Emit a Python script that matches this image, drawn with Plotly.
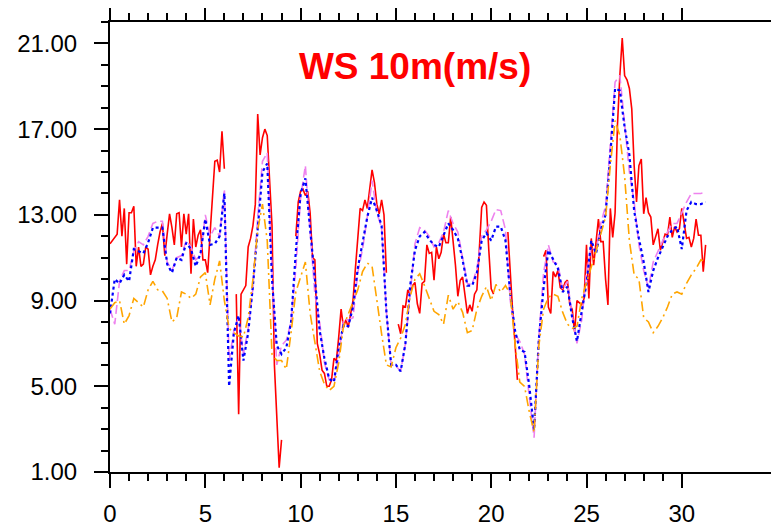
import plotly.graph_objects as go

# 3-hourly observed series (values per day, 8 per day), None = missing
red_ws = [
    11.65, 11.8, 12.0, 12.1, 13.7, 12.0, 13.3, 10.7,
    13.1, 13.1, 13.4, 10.6, 11.5, 10.6, 10.7, 11.5,
    11.4, 10.2, 10.6, 10.9, 11.6, 12.2, 12.6, 11.1,
    12.1, 13.05, 12.4, 11.6, 13.05, 13.1, 11.5, 13.05,
    12.1, 13.05, 10.25, 12.8, 11.5, 12.05, 12.3, 10.9,
    10.9, 10.3, 12.1, 13.8, 15.5, 15.55, 15.0, 16.9,
    15.15, None, None, None, None, 9.3, 3.7, 9.3,
    9.5, 9.7, 11.5, 11.9, 12.5, 13.5, 17.7, 15.8,
    16.6, 17.0, 16.7, 14.8, 12.5, 6.0, 3.4, 1.2,
    2.5, None, None, None, None, None, 12.0, 13.6,
    14.1, 14.2, 13.9, 14.1, 13.1, 11.0, 10.9, 7.0,
    6.5, 5.75, 5.6, 5.0, 5.0, 5.3, 6.3, 6.2,
    7.3, 8.6, 7.75, 8.1, 7.75, 8.4, 9.0, 10.5,
    11.8, 13.3, 13.2, 13.7, 13.3, 14.2, 15.1, 14.5,
    13.5, 13.05, 13.7, 13.0, 10.3, None, None, None,
    None, 7.9, 7.45, 8.75, 8.7, 9.5, 9.3, 9.7,
    9.85, 8.85, 8.4, 9.8, 9.9, 11.6, 11.2, 11.25,
    9.95, 11.5, 10.95, 11.25, 12.1, 11.7, 11.7, 12.9,
    11.8, 10.65, 9.2, 9.95, 10.1, 9.2, 8.4, 8.8,
    8.5, 9.3, 9.5, 11.35, 13.35, 13.6, 13.45, 11.35,
    9.55, 9.3, None, None, None, None, None, 12.2,
    10.0, 8.5, 7.0, 5.3, None, None, None, None,
    None, None, None, None, None, None, 11.05, 11.35,
    8.7, 8.4, 10.35, 10.1, 10.4, 9.6, 9.5, 9.85,
    9.95, 8.8, 8.6, 7.55, 9.0, 8.9, 8.8, 9.1,
    11.6, 9.1, 11.9, 10.65, 11.6, 12.8, 11.75, 11.75,
    10.0, 8.8, 13.3, 11.95, 13.1, 17.2, 19.5, 21.25,
    19.5, 19.3, 18.9, 17.95, 15.3, 13.6, 15.3, 15.6,
    13.05, 13.8, 13.1, 12.9, 11.6, 11.95, 12.35, 11.35,
    11.75, 12.1, 12.05, 12.9, 11.95, 12.45, 12.2, 12.35,
    13.3, 12.5, 11.9, 11.95, 11.5, 11.9, 12.8, 12.05,
    12.05, 10.35, 11.6,
]

# 6-hourly model series (4 per day)
violet_ws = [
    8.6, 7.9, 9.9, 10.4,
    10.4, 11.3, 11.75, 11.6,
    12.0, 12.6, 12.7, 12.7,
    10.8, 10.4, 11.0, 11.1,
    11.8, 11.5, 10.9, 11.1,
    13.0, 12.0, 12.4, 12.0,
    14.2, 6.2, 7.6, 8.2,
    6.5, 7.7, 9.6, 12.9,
    15.5, 15.9, 10.5, 6.0,
    6.9, 7.15, 8.0, 10.5,
    13.8, 15.3, 12.2, 9.3,
    8.0, 6.1, 5.3, 5.2,
    6.4, 8.1, 8.1, 8.2,
    10.3, 11.4, 12.9, 14.6,
    13.1, 12.4, 8.5, 6.0,
    5.95, 5.7, 7.0, 9.5,
    11.65, 12.4, 12.3, 12.0,
    11.5, 11.7, 12.2, 13.2,
    12.6, 12.2, 10.9, 9.8,
    9.75, 10.5, 12.0, 12.3,
    12.7, 13.25, 13.2, 12.3,
    9.0, 7.45, 7.1, 6.5,
    4.5, 2.6, 7.3, 10.3,
    11.6, 10.8, 10.7, 9.5,
    9.9, 8.3, 7.0, 8.1,
    10.3, 11.5, 11.3, 12.6,
    13.4, 16.5, 19.2, 19.5,
    17.3, 15.0, 13.6, 11.6,
    10.4, 9.6, 10.8, 11.3,
    11.8, 12.2, 12.6, 12.6,
    13.1, 13.6, 14.0, 14.0,
    14.0, 14.05,
]

blue_ws = [
    8.4, 10.0, 9.8, 10.2,
    9.9, 11.4, 11.3, 11.2,
    11.7, 12.4, 12.4, 12.4,
    10.7, 10.3, 11.0, 10.9,
    11.7, 11.4, 10.6, 11.2,
    12.8, 11.6, 11.65, 12.0,
    14.0, 5.0, 7.5, 8.3,
    6.2, 7.5, 9.7, 12.5,
    15.0, 15.4, 10.0, 6.9,
    6.5, 6.8, 8.0, 11.3,
    14.0, 14.7, 12.2, 10.0,
    7.6, 6.3, 5.35, 5.2,
    6.8, 7.85, 7.8, 8.7,
    10.5, 11.7, 12.9, 13.8,
    13.2, 12.5, 8.5, 6.0,
    6.0, 5.7, 7.0, 9.7,
    11.35, 12.0, 12.2, 11.85,
    11.6, 11.5, 12.1, 12.6,
    12.3, 11.9, 10.9, 9.7,
    9.7, 10.3, 11.8, 12.15,
    11.8, 12.45, 12.45, 11.8,
    9.3, 7.6, 6.7, 6.6,
    5.0, 2.95, 7.2, 9.6,
    11.35, 10.9, 10.5, 9.4,
    9.65, 8.2, 7.1, 8.5,
    9.8, 11.8, 11.2, 12.3,
    13.0, 15.8, 18.9, 18.8,
    17.1, 15.8, 13.2, 11.9,
    10.8, 9.4, 10.4, 11.0,
    11.5, 12.0, 12.3, 12.45,
    11.4, 13.2, 13.6, 13.5,
    13.5, 13.6,
]

orange_ws = [
    8.6, 8.9, 9.0, 7.9,
    8.3, 9.1, 8.9, 8.7,
    9.5, 9.9, 9.5, 9.45,
    9.1, 8.0, 8.2, 9.4,
    9.3, 9.1, 9.3, 10.1,
    10.3, 8.8, 10.0, 10.85,
    9.0, 7.7, 7.5, 7.35,
    7.3, 8.2, 10.0, 12.3,
    13.5, 11.8, 6.5, 6.2,
    6.2, 5.8, 7.5, 9.4,
    10.1, 10.8, 8.4, 7.15,
    5.7, 5.1, 4.8, 5.0,
    6.1, 7.8, 8.4, 8.9,
    9.5, 10.35, 10.75, 10.6,
    8.9, 7.45, 6.0, 5.9,
    6.8, 7.25, 7.9, 9.2,
    10.0, 10.25, 9.7, 9.1,
    8.5, 8.35, 7.9, 9.25,
    8.6, 8.95, 8.45, 7.5,
    7.6, 8.6, 9.2, 9.65,
    9.0, 9.75, 9.4, 9.7,
    9.3, 7.0, 5.2, 5.0,
    3.8, 2.85, 6.9, 8.6,
    9.15, 9.3, 9.2, 8.45,
    7.9, 7.7, 7.8, 9.1,
    9.8, 10.6, 11.3, 12.1,
    12.9, 15.3, 17.4, 16.7,
    14.8, 11.8, 10.2, 10.0,
    8.2, 8.0, 7.5, 7.8,
    8.2, 8.7, 9.3, 9.4,
    9.3, 9.8, 10.2, 10.5,
    10.9, 10.8,
]

t_3h = [i * 0.125 for i in range(len(red_ws))]
t_6h = [i * 0.25 for i in range(len(blue_ws))]

x_tickvals = [0, 5, 10, 15, 20, 25, 30]
x_minor = list(range(0, 31))
y_tickvals = [1, 5, 9, 13, 17, 21]
y_ticktext = ["1.00", "5.00", "9.00", "13.00", "17.00", "21.00"]

FONT = "Helvetica, Liberation Sans, Arial, sans-serif"

fig = go.Figure()
fig.add_trace(go.Scatter(x=t_3h, y=red_ws, mode="lines", name="OBS",
                         line=dict(color="#FF0000", width=1.6), connectgaps=False))
fig.add_trace(go.Scatter(x=t_6h, y=violet_ws, mode="lines", name="M1",
                         line=dict(color="#EE82EE", width=1.6, dash="9px,4px")))
fig.add_trace(go.Scatter(x=t_6h, y=blue_ws, mode="lines", name="M2",
                         line=dict(color="#0000FF", width=2.2, dash="3px,3px")))
fig.add_trace(go.Scatter(x=t_6h, y=orange_ws, mode="lines", name="M3",
                         line=dict(color="#FFA500", width=1.6, dash="10px,4px,2px,4px")))

# the page body adds an 8px offset, so the figure is sized to fill the rest
fig.update_layout(
    width=771, height=518,
    margin=dict(l=102, r=0, t=14, b=54, autoexpand=False),
    paper_bgcolor="white", plot_bgcolor="white",
    showlegend=False,
    title=dict(text="<b>WS 10m(m/s)</b>", x=0.528, xanchor="center",
               y=0.888, yanchor="middle",
               font=dict(family=FONT, size=37, color="#FF0000")),
    font=dict(family=FONT, color="black"),
)
fig.update_xaxes(
    range=[0, 35.1], tickmode="array", tickvals=x_tickvals,
    ticks="outside", ticklen=14, tickwidth=2, tickcolor="black",
    showline=True, linewidth=2, linecolor="black", mirror="ticks",
    showgrid=False, zeroline=False, automargin=False,
    tickfont=dict(family=FONT, size=24, color="black"),
    ticklabelstandoff=5,
    minor=dict(tickmode="array", tickvals=x_minor, ticks="outside",
               ticklen=7, tickwidth=1.5, tickcolor="black", showgrid=False),
)
fig.update_yaxes(
    range=[1, 22], tickmode="array", tickvals=y_tickvals, ticktext=y_ticktext,
    ticks="outside", ticklen=14, tickwidth=2, tickcolor="black",
    showline=True, linewidth=2, linecolor="black", mirror=False,
    showgrid=False, zeroline=False, automargin=False,
    tickfont=dict(family=FONT, size=24, color="black"),
    ticklabelstandoff=12,
    minor=dict(dtick=1, tick0=1, ticks="outside", ticklen=7, tickwidth=1.5,
               tickcolor="black", showgrid=False),
)

fig.write_html("out.html")
